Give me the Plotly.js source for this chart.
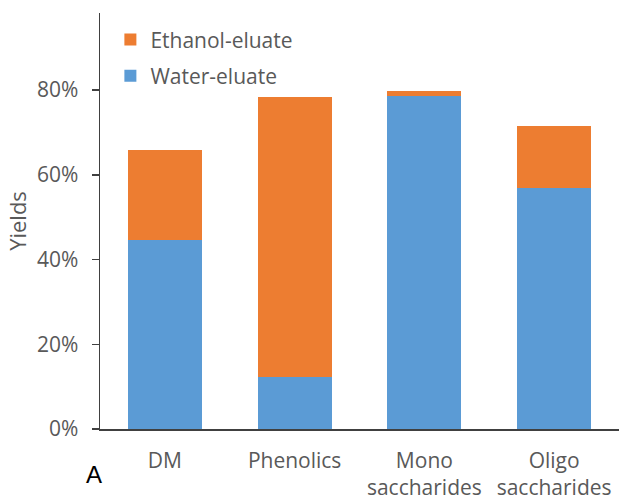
<!DOCTYPE html>
<html>
<head>
<meta charset="utf-8">
<script src="https://cdn.plot.ly/plotly-3.0.1.min.js"></script>
<style>html,body{margin:0;padding:0;background:#fff;}#chart{width:619px;height:500px;}</style>
</head>
<body>
<div id="chart"></div>
<script>
const categories = ["DM", "Phenolics", "Mono<br>saccharides", "Oligo<br>saccharides"];
const waterEluate = [0.446, 0.122, 0.787, 0.570];
const ethanolEluate = [0.213, 0.662, 0.012, 0.146];
const yTickVals = [0, 0.2, 0.4, 0.6, 0.8];
const yTickText = ["0%", "20%", "40%", "60%", "80%"];

const FONT = "'Open Sans', Lato, sans-serif";
const GRAY = "#595959";

const traces = [
  {type: "bar", name: "Water-eluate", x: categories, y: waterEluate,
   marker: {color: "#5B9BD5"}, legendgroup: "w", legendrank: 2},
  {type: "bar", name: "Ethanol-eluate", x: categories, y: ethanolEluate,
   marker: {color: "#ED7D31"}, legendgroup: "e", legendrank: 1}
];

const layout = {
  width: 619, height: 500,
  margin: {l: 100, r: 0, t: 13, b: 71},
  barmode: "stack",
  bargap: 0.43,
  paper_bgcolor: "#fff", plot_bgcolor: "#fff",
  font: {family: FONT, color: GRAY, size: 21},
  showlegend: true,
  legend: {x: 0.02, y: 0.985, xanchor: "left", yanchor: "top",
           traceorder: "grouped", tracegroupgap: 6,
           bgcolor: "rgba(0,0,0,0)", font: {family: FONT, size: 21, color: GRAY}},
  xaxis: {type: "category", range: [-0.5, 3.5], showline: true, linecolor: "#404040",
          linewidth: 1.5, ticks: "", showgrid: false, zeroline: false,
          tickfont: {family: FONT, size: 21, color: GRAY}, ticklabelstandoff: 12},
  yaxis: {range: [0, 0.982], showline: true, linecolor: "#404040", linewidth: 1.5,
          ticks: "outside", ticklen: 7, tickwidth: 1.5, tickcolor: "#404040",
          tickvals: yTickVals, ticktext: yTickText, showgrid: false, zeroline: false,
          tickfont: {family: FONT, size: 21, color: GRAY}, ticklabelstandoff: 9,
          title: {text: "Yields", font: {family: FONT, size: 22, color: GRAY}, standoff: 4}},
  annotations: [
    {text: "A", xref: "paper", yref: "paper", x: -0.012, y: -0.11,
     xanchor: "center", yanchor: "middle", showarrow: false,
     font: {family: "Liberation Sans, Arial, sans-serif", size: 24, color: "#000"}}
  ]
};

Plotly.newPlot("chart", traces, layout, {displayModeBar: false, staticPlot: true});
</script>
</body>
</html>
